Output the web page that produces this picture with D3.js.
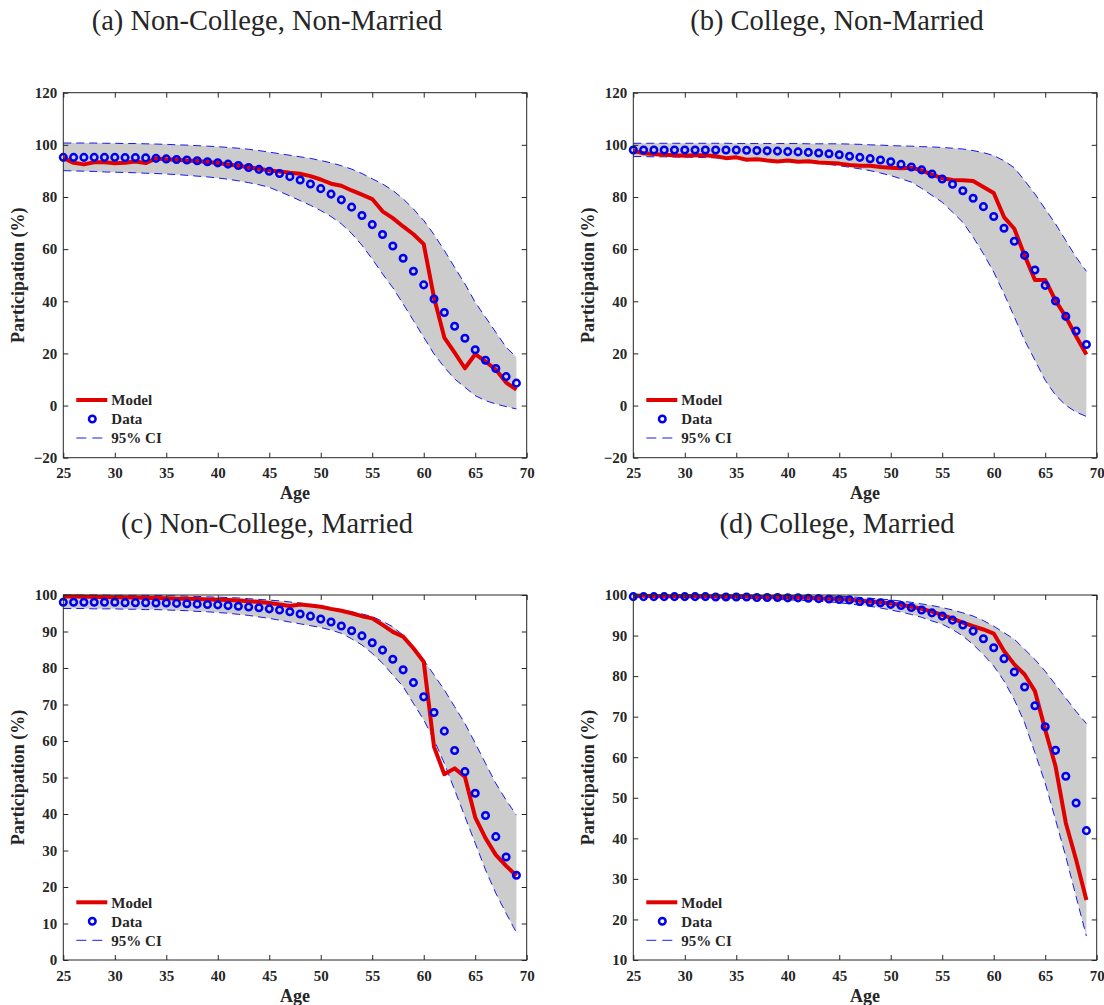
<!DOCTYPE html>
<html lang="en">
<head>
<meta charset="UTF-8">
<title>Participation by age</title>
<style>
  body { margin: 0; background: #fff; }
  svg text { font-family: "Liberation Serif", "Times New Roman", serif; fill: #262626; }
</style>
</head>
<body>
<div id="chart"></div>
<script src="https://cdn.jsdelivr.net/npm/d3@7"></script>
<script>
// ages on the x axis, one value per age for every series
const AGES = d3.range(25, 70);
const X_TICKS = [25, 30, 35, 40, 45, 50, 55, 60, 65, 70];

const TITLES = ["(a) Non-College, Non-Married", "(b) College, Non-Married",
                "(c) Non-College, Married", "(d) College, Married"];
const Y_DOMAINS = [[-20, 120], [-20, 120], [0, 100], [10, 100]];
const Y_TICKS = [
  [-20, 0, 20, 40, 60, 80, 100, 120],
  [-20, 0, 20, 40, 60, 80, 100, 120],
  [0, 10, 20, 30, 40, 50, 60, 70, 80, 90, 100],
  [10, 20, 30, 40, 50, 60, 70, 80, 90, 100]
];
const LEGEND_LABELS = ["Model", "Data", "95% CI"];

// (a) Non-College, Non-Married
const modelA = [95.0,93.1,92.5,93.3,93.3,92.9,93.1,93.6,93.0,94.8,94.5,94.3,94.0,93.8,93.4,93.0,92.5,92.0,91.4,90.8,90.2,89.8,89.3,88.9,88.0,86.7,85.1,84.3,82.5,80.9,79.2,74.5,71.9,68.7,65.7,61.9,41.4,26.1,20.3,14.3,19.7,16.9,13.8,8.8,6.1];
const dataA  = [95.2,95.2,95.2,95.2,95.2,95.2,95.1,95.1,95.0,94.8,94.6,94.4,94.2,93.9,93.5,93.1,92.6,92.1,91.3,90.6,89.9,89.0,87.8,86.5,85.0,83.2,81.1,78.9,76.1,72.9,69.4,65.6,61.2,56.5,51.5,46.3,40.9,35.7,30.4,25.8,21.4,17.4,14.2,11.1,8.6];
const ciHiA  = [100.7,100.7,100.7,100.7,100.6,100.6,100.5,100.5,100.4,100.3,100.2,100.0,99.9,99.7,99.5,99.3,99.0,98.7,98.3,97.8,97.2,96.6,96.0,95.4,94.8,94.0,93.1,92.0,90.7,89.0,87.0,85.0,82.5,79.3,75.4,71.0,65.6,59.5,53.0,46.7,39.6,33.9,28.1,22.4,18.5];
const ciLoA  = [90.1,90.0,89.9,89.8,89.6,89.5,89.4,89.3,89.1,89.0,88.8,88.6,88.3,88.0,87.7,87.3,86.8,86.2,85.5,84.7,83.7,82.1,80.4,78.6,76.8,74.8,72.5,69.7,66.0,61.5,56.2,50.5,45.2,39.0,32.6,26.2,19.8,14.7,10.2,7.0,3.8,1.9,0.6,-0.4,-1.3];

// (b) College, Non-Married
const modelB = [97.7,96.8,96.5,96.2,96.0,95.8,96.0,96.0,95.6,94.9,95.2,94.3,94.5,94.0,93.6,94.0,93.5,93.7,93.2,93.0,92.8,92.3,92.0,92.0,91.5,91.2,91.0,91.2,90.2,88.6,87.2,86.5,86.4,86.1,83.8,81.5,72.3,67.8,57.6,48.2,48.2,40.3,34.0,26.6,19.6];
const dataB  = [98.0,98.0,98.0,98.0,98.0,98.0,98.0,98.0,98.0,98.0,98.0,97.9,97.8,97.7,97.6,97.4,97.3,97.1,96.9,96.6,96.2,95.6,95.2,94.7,94.2,93.5,92.5,91.5,90.4,88.8,86.9,84.9,82.4,79.5,76.3,72.5,68.0,63.0,57.6,52.0,46.1,40.1,34.2,28.6,23.4];
const ciHiB  = [100.6,100.6,100.6,100.6,100.6,100.6,100.6,100.6,100.6,100.6,100.5,100.5,100.5,100.5,100.5,100.5,100.5,100.4,100.4,100.4,100.4,100.3,100.2,100.0,99.9,99.7,99.6,99.5,99.3,99.2,99.0,98.7,98.4,97.8,97.0,95.9,93.9,91.2,86.3,81.2,75.4,69.7,63.3,56.9,51.5];
const ciLoB  = [95.5,95.5,95.4,95.4,95.3,95.3,95.2,95.1,95.0,94.9,94.8,94.6,94.4,94.2,94.0,93.8,93.5,93.2,92.9,92.5,92.0,91.4,90.8,90.1,89.2,88.2,87.0,85.7,83.3,80.6,78.0,74.2,70.3,64.6,58.2,51.2,42.9,34.0,25.0,17.4,9.7,4.0,0.1,-2.5,-4.2];

// (c) Non-College, Married
const modelC = [99.6,99.6,99.5,99.5,99.4,99.4,99.3,99.3,99.2,99.2,99.1,99.0,99.0,98.9,98.8,98.7,98.6,98.5,98.3,98.1,97.8,97.4,97.0,97.4,97.1,96.8,96.2,95.7,95.0,94.2,93.6,91.8,89.9,88.6,85.4,81.7,58.4,50.9,52.5,50.2,39.1,33.4,28.8,25.8,23.1];
const dataC  = [98.0,98.0,98.0,98.0,98.0,98.0,97.9,97.9,97.9,97.8,97.8,97.7,97.6,97.5,97.4,97.3,97.1,96.9,96.7,96.5,96.2,95.9,95.4,94.8,94.2,93.4,92.6,91.5,90.2,88.8,86.9,84.9,82.4,79.5,76.0,72.1,67.8,62.7,57.4,51.6,45.7,39.6,33.8,28.2,23.2];
const ciHiC  = [100.0,100.0,100.0,100.0,100.0,99.9,99.9,99.9,99.9,99.9,99.8,99.8,99.7,99.6,99.5,99.4,99.3,99.2,99.0,98.8,98.6,98.4,98.1,97.8,97.4,97.0,96.5,96.0,95.4,94.8,94.1,92.8,91.3,89.0,85.8,82.2,78.1,74.0,69.4,64.8,59.4,53.9,48.4,43.8,39.7];
const ciLoC  = [96.3,96.3,96.3,96.2,96.2,96.2,96.1,96.1,96.0,96.0,95.9,95.8,95.7,95.5,95.4,95.2,95.0,94.7,94.4,94.0,93.6,93.1,92.6,92.1,91.6,91.1,90.4,89.5,88.0,86.3,84.0,81.3,78.1,74.9,70.3,65.8,60.3,53.9,46.6,39.3,32.0,24.7,18.3,12.8,7.5];

// (d) College, Married
const modelD = [99.9,99.8,99.7,99.7,99.7,99.7,99.7,99.7,99.6,99.6,99.6,99.6,99.5,99.5,99.5,99.4,99.4,99.3,99.2,99.1,99.0,98.9,98.6,98.4,98.2,97.9,97.6,97.1,96.6,95.9,95.1,94.2,93.2,92.3,91.5,90.5,86.2,82.9,80.4,76.3,66.8,57.8,43.8,34.7,24.8];
const dataD  = [99.6,99.6,99.6,99.6,99.6,99.6,99.6,99.6,99.5,99.5,99.5,99.5,99.4,99.4,99.4,99.3,99.3,99.2,99.1,99.0,98.9,98.8,98.4,98.2,98.1,97.7,97.4,96.9,96.3,95.6,94.8,93.8,92.6,91.1,89.2,87.0,84.3,81.0,77.3,72.7,67.5,61.7,55.3,48.7,41.9];
const ciHiD  = [100.0,100.0,100.0,100.0,100.0,100.0,100.0,100.0,100.0,100.0,100.0,100.0,99.9,99.9,99.9,99.9,99.8,99.8,99.8,99.8,99.7,99.6,99.4,99.2,99.0,98.8,98.5,98.2,97.8,97.4,96.9,96.3,95.6,94.8,93.7,92.3,90.7,89.1,86.6,84.1,81.2,77.9,74.6,71.3,68.3];
const ciLoD  = [99.4,99.4,99.4,99.4,99.4,99.4,99.3,99.3,99.3,99.2,99.2,99.1,99.1,99.0,98.9,98.8,98.7,98.6,98.5,98.3,98.1,97.8,97.5,97.2,96.8,96.3,95.8,95.2,94.5,93.6,92.8,91.5,89.9,87.8,85.3,82.5,78.8,74.2,68.5,61.1,53.6,44.6,35.5,25.6,15.9];

const MODELS = [modelA, modelB, modelC, modelD];
const DATAS = [dataA, dataB, dataC, dataD];
const CI_HI = [ciHiA, ciHiB, ciHiC, ciHiD];
const CI_LO = [ciLoA, ciLoB, ciLoC, ciLoD];

// layout
const WIDTH = 1104, HEIGHT = 1005;
const PLOT_W = 463.4, PLOT_H = 365;
const ORIGINS = [[63.3, 92.7], [633.3, 92.7], [63.3, 595], [633.3, 595]];
const RED = "#e00000", BLUE = "#0000f0", SHADE = "#cccccc", AXIS = "#262626";

const svg = d3.select("#chart").append("svg")
  .attr("width", WIDTH).attr("height", HEIGHT)
  .style("background", "#fff");

TITLES.forEach((title, i) => {
  const [ox, oy] = ORIGINS[i];
  const g = svg.append("g").attr("transform", `translate(${ox},${oy})`);

  const x = d3.scaleLinear().domain([25, 70]).range([0, PLOT_W]);
  const y = d3.scaleLinear().domain(Y_DOMAINS[i]).range([PLOT_H, 0]);

  const rows = AGES.map((age, k) => ({
    age, model: MODELS[i][k], data: DATAS[i][k], hi: CI_HI[i][k], lo: CI_LO[i][k]
  }));

  // confidence band
  g.append("path").datum(rows)
    .attr("fill", SHADE)
    .attr("d", d3.area().x(d => x(d.age)).y0(d => y(d.lo)).y1(d => y(d.hi)));

  ["hi", "lo"].forEach(key => {
    g.append("path").datum(rows)
      .attr("fill", "none").attr("stroke", BLUE).attr("stroke-width", 0.9)
      .attr("stroke-dasharray", "8,5")
      .attr("d", d3.line().x(d => x(d.age)).y(d => y(d[key])));
  });

  // model
  g.append("path").datum(rows)
    .attr("fill", "none").attr("stroke", RED).attr("stroke-width", 4)
    .attr("stroke-linejoin", "round")
    .attr("d", d3.line().x(d => x(d.age)).y(d => y(d.model)));

  // data
  g.selectAll("circle.data").data(rows).enter().append("circle")
    .attr("class", "data")
    .attr("cx", d => x(d.age)).attr("cy", d => y(d.data))
    .attr("r", 3.3).attr("fill", "none")
    .attr("stroke", BLUE).attr("stroke-width", 2.5);

  // axes, MATLAB style: ticks inside on all four sides
  const bottom = g.append("g").attr("transform", `translate(0,${PLOT_H})`)
    .call(d3.axisBottom(x).tickValues(X_TICKS).tickSizeInner(-5).tickSizeOuter(0).tickPadding(10));
  const left = g.append("g")
    .call(d3.axisLeft(y).tickValues(Y_TICKS[i]).tickSizeInner(-5).tickSizeOuter(0).tickPadding(6));
  g.append("g")
    .call(d3.axisTop(x).tickValues(X_TICKS).tickSizeInner(-5).tickSizeOuter(0).tickFormat(""));
  g.append("g").attr("transform", `translate(${PLOT_W},0)`)
    .call(d3.axisRight(y).tickValues(Y_TICKS[i]).tickSizeInner(-5).tickSizeOuter(0).tickFormat(""));

  g.selectAll(".domain").remove();
  g.selectAll(".tick line").attr("stroke", AXIS);
  [bottom, left].forEach(a => a.selectAll("text")
    .style("font-family", "'Liberation Serif', 'Times New Roman', serif")
    .style("font-size", "15px").style("font-weight", "bold").attr("fill", AXIS));

  g.append("rect").attr("width", PLOT_W).attr("height", PLOT_H)
    .attr("fill", "none").attr("stroke", AXIS).attr("stroke-width", 1);

  // labels
  svg.append("text")
    .attr("x", ox + PLOT_W / 2 - 28).attr("y", oy - 62.5)
    .attr("text-anchor", "middle").style("font-size", "28.5px")
    .text(title);

  g.append("text")
    .attr("x", PLOT_W / 2).attr("y", PLOT_H + 41.5)
    .attr("text-anchor", "middle").style("font-size", "18px").style("font-weight", "bold")
    .text("Age");

  g.append("text")
    .attr("transform", `translate(-39,${PLOT_H / 2}) rotate(-90)`)
    .attr("text-anchor", "middle").style("font-size", "18px").style("font-weight", "bold")
    .text("Participation (%)");

  // legend
  const leg = g.append("g").attr("transform", `translate(13,${PLOT_H - 57.7})`);
  LEGEND_LABELS.forEach((label, k) => {
    const row = leg.append("g").attr("transform", `translate(0,${k * 19})`);
    if (k === 0) {
      row.append("line").attr("x1", 0).attr("x2", 31)
        .attr("stroke", RED).attr("stroke-width", 4);
    } else if (k === 1) {
      row.append("circle").attr("cx", 16).attr("r", 3.3)
        .attr("fill", "none").attr("stroke", BLUE).attr("stroke-width", 2.5);
    } else {
      row.append("line").attr("x1", 0).attr("x2", 31)
        .attr("stroke", BLUE).attr("stroke-width", 0.9).attr("stroke-dasharray", "10,6");
    }
    row.append("text").attr("x", 35).attr("dy", "0.35em")
      .style("font-size", "15px").style("font-weight", "bold")
      .text(label);
  });
});
</script>
</body>
</html>
